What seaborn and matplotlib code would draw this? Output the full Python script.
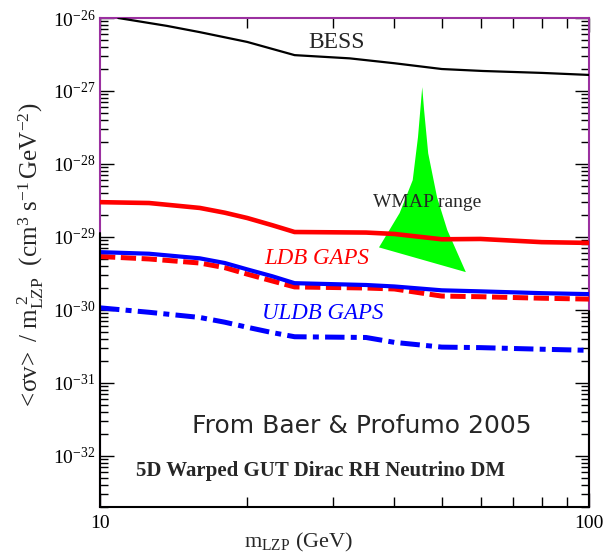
import numpy as np
import pandas as pd
import matplotlib
matplotlib.use("Agg")
import matplotlib.pyplot as plt
from matplotlib.ticker import LogLocator, FixedLocator, FixedFormatter, NullFormatter, LogFormatterMathtext
import seaborn as sns

# ---- data -------------------------------------------------------------
bess_m = [10.9, 13.7, 16, 20, 25, 32.4, 40, 50, 60.7, 80, 100]
bess_sv = [1.0e-26, 7.8e-27, 6.4e-27, 4.7e-27, 3.1e-27, 2.8e-27, 2.4e-27,
           2.0e-27, 1.88e-27, 1.77e-27, 1.66e-27]

gaps_m = [10, 12.6, 16, 18, 20, 22.5, 25, 35, 40, 50, 60, 80, 100]
ldb_gaps = [3.0e-29, 2.92e-29, 2.5e-29, 2.15e-29, 1.82e-29, 1.45e-29,
            1.17e-29, 1.15e-29, 1.1e-29, 9.3e-30, 9.4e-30, 8.5e-30, 8.3e-30]
ldb_gaps_b = [6.2e-30, 5.9e-30, 5.1e-30, 4.4e-30, 3.6e-30, 2.9e-30,
              2.33e-30, 2.2e-30, 2.1e-30, 1.86e-30, 1.8e-30, 1.7e-30, 1.65e-30]
ldb_gaps_r = [5.4e-30, 5.0e-30, 4.4e-30, 3.8e-30, 3.1e-30, 2.5e-30,
              2.07e-30, 2.0e-30, 1.94e-30, 1.55e-30, 1.52e-30, 1.45e-30,
              1.41e-30]
uldb_gaps = [1.07e-30, 9.3e-31, 7.9e-31, 6.8e-31, 5.8e-31, 4.9e-31,
             4.3e-31, 4.2e-31, 3.6e-31, 3.1e-31, 3.05e-31, 2.9e-31, 2.8e-31]

# WMAP-favoured region outline (apex, left edge down, right edge up)
wmap_m = [45.6, 44.7, 43.6, 41.0, 37.2, 56.0, 51.3, 48.9, 46.9, 46.0]
wmap_sv = [1.13e-27, 2.34e-28, 6.0e-29, 2.13e-29, 7.2e-30, 3.3e-30, 1.25e-29,
           3.5e-29, 1.4e-28, 5.5e-28]

x_ticks = [10, 100]
x_tick_labels = ["10", "100"]
y_ticks = [1e-32, 1e-31, 1e-30, 1e-29, 1e-28, 1e-27, 1e-26]

# ---- style ------------------------------------------------------------
sns.set_style("ticks")
plt.rcParams["font.family"] = ["Liberation Serif", "DejaVu Serif"]
plt.rcParams["mathtext.fontset"] = "custom"
plt.rcParams["mathtext.rm"] = "Liberation Serif"
plt.rcParams["mathtext.it"] = "Liberation Serif:italic"
plt.rcParams["mathtext.bf"] = "Liberation Serif:bold"
plt.rcParams["mathtext.default"] = "regular"
plt.rcParams["lines.scale_dashes"] = False

frame_purple = "#9b30a0"

fig = plt.figure(figsize=(6.03, 5.60), dpi=100)
ax = fig.add_axes([100 / 603, 1 - 507 / 560, 489 / 603, 489 / 560])
ax.set_xscale("log")
ax.set_yscale("log")
ax.set_xlim(10, 100)
ax.set_ylim(2e-33, 1e-26)

# WMAP region
ax.fill(wmap_m, wmap_sv, color="#00ff00", lw=0, zorder=2)

# curves
sns.lineplot(x=bess_m, y=bess_sv, ax=ax, color="black", lw=1.6, sort=False,
             zorder=3)
sns.lineplot(x=gaps_m, y=ldb_gaps, ax=ax, color="#ff0000", lw=3.3, sort=False,
             zorder=3)
sns.lineplot(x=gaps_m, y=ldb_gaps_r, ax=ax, color="#ff0000", lw=3.6,
             sort=False, zorder=3)
ax.lines[-1].set_dashes((11, 4))
ax.lines[-1].set_dash_capstyle("butt")
sns.lineplot(x=gaps_m, y=ldb_gaps_b, ax=ax, color="#0000ff", lw=3.0,
             sort=False, zorder=4)
sns.lineplot(x=gaps_m, y=uldb_gaps, ax=ax, color="#0000ff", lw=3.6,
             sort=False, zorder=3)
ax.lines[-1].set_dashes((14, 4.5, 4.3, 4.5))
ax.lines[-1].set_dash_capstyle("butt")

# labels on the plot
ax.text(30.4, 4.55e-27, "BESS", fontsize=17, ha="center", va="center")
ax.text(46.6, 3.0e-29, "WMAP range", fontsize=14, ha="center", va="center",
        zorder=5)
ax.text(27.7, 5.0e-30, "LDB GAPS", fontsize=16.5, style="italic",
        color="#ff0000", ha="center", va="center")
ax.text(28.6, 8.9e-31, "ULDB GAPS", fontsize=16.5, style="italic",
        color="#0000ff", ha="center", va="center")
ax.text(0.536, 0.166, "From Baer & Profumo 2005", transform=ax.transAxes,
        fontsize=18, family="DejaVu Sans", ha="center", va="center")
ax.text(0.452, 0.074, "5D Warped GUT Dirac RH Neutrino DM",
        transform=ax.transAxes, fontsize=15, weight="bold",
        ha="center", va="center")

# axes labels
ax.set_xlabel(r"$\mathrm{m_{LZP}}$ (GeV)", fontsize=16)
ax.xaxis.set_label_coords(0.407, -0.050)
ax.set_ylabel(r"$\mathrm{<\!\sigma v\!>\ /\ m_{LZP}^{\ 2}\ \ (cm^{3}\ s^{-1}\,GeV^{-2})}$",
              fontsize=18)
ax.yaxis.set_label_coords(-0.11, 0.513)

# ticks
ax.xaxis.set_major_locator(FixedLocator(x_ticks))
ax.xaxis.set_major_formatter(FixedFormatter(x_tick_labels))
ax.xaxis.set_minor_locator(LogLocator(base=10, subs=np.arange(2, 10)))
ax.xaxis.set_minor_formatter(NullFormatter())
ax.yaxis.set_major_locator(FixedLocator(y_ticks))
ax.yaxis.set_major_formatter(LogFormatterMathtext())
ax.yaxis.set_minor_locator(LogLocator(base=10, subs=np.arange(2, 10),
                                      numticks=20))
ax.yaxis.set_minor_formatter(NullFormatter())
ax.tick_params(which="both", direction="in", top=True, right=True,
               colors="black", labelsize=14)
ax.tick_params(which="major", length=10, width=1.0)
ax.tick_params(which="minor", length=6, width=1.0)
ax.tick_params(axis="x", which="major", pad=6)
ax.tick_params(axis="x", which="minor", length=7)

# frame
for side in ["top", "right", "left"]:
    ax.spines[side].set_color(frame_purple)
    ax.spines[side].set_linewidth(1.5)
ax.spines["bottom"].set_color("black")
ax.spines["bottom"].set_linewidth(1.5)
ax.axvline(10, 0, 0.56, color="black", lw=1.5, clip_on=False, zorder=6)
ax.axvline(100, 0, 0.40, color="black", lw=1.5, clip_on=False, zorder=6)

fig.savefig("out.png", dpi=100)
